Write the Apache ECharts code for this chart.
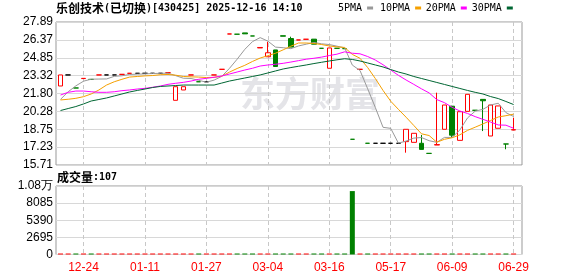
<!DOCTYPE html>
<html><head><meta charset="utf-8">
<script src="https://cdn.jsdelivr.net/npm/echarts@6/dist/echarts.min.js"></script>
<style>html,body{margin:0;padding:0;background:#fff}#c{width:578px;height:276px}</style>
</head><body><div id="c"></div>
<script>
const chartTitle = '乐创技术(已切换)[430425] 2025-12-16 14:10';
const volTitle = '成交量:107';
const tickLabels = ['12-24','01-11','01-27','03-04','03-16','05-17','06-09','06-29'];
const tickIndex = [3,11,19,27,35,43,51,59];
const priceTicks = ['15.71','17.23','18.75','20.28','21.80','23.32','24.85','26.37','27.89'];
const volTicks = ['0','2695','5390','8085','1.08万'];
const volMax = 10780;

const opens  = [22.44,23.38,22.27,23.07,23.00,23.38,23.38,23.38,23.43,23.52,23.52,23.52,23.52,23.52,23.57,21.22,22.10,23.38,22.80,22.80,23.38,23.86,26.87,26.85,26.96,26.70,25.68,24.93,25.51,26.72,26.48,26.36,26.42,26.43,25.65,23.95,25.65,25.62,17.90,23.86,17.56,17.56,17.56,17.56,17.56,17.70,17.64,17.56,16.70,17.41,18.75,20.72,17.81,20.28,20.37,21.30,18.18,18.84,17.50,18.69];
const closes = [23.38,23.38,22.27,23.09,23.00,23.38,23.38,23.38,23.43,23.52,23.52,23.52,23.52,23.52,23.57,22.38,22.38,23.38,22.80,22.80,23.38,23.86,26.87,26.85,26.88,26.70,25.72,25.27,24.10,26.68,25.75,26.36,26.42,26.00,25.65,25.68,25.65,25.62,17.90,23.86,17.56,17.56,17.56,17.56,17.56,18.75,18.41,17.04,16.70,17.45,20.82,18.25,20.25,21.73,20.37,21.18,20.82,20.74,17.50,18.72];
const lows   = [22.44,23.38,22.27,23.07,23.00,23.38,23.38,23.38,23.43,23.52,23.52,23.52,23.52,23.52,23.57,21.22,22.10,23.38,22.80,22.80,23.38,23.86,26.87,26.85,26.88,26.70,25.68,24.93,24.10,26.68,25.75,26.36,26.42,26.00,25.65,23.95,25.65,25.62,17.90,23.86,17.56,17.56,17.56,17.56,17.56,16.76,17.64,17.04,16.70,17.41,18.75,18.02,17.81,20.28,20.37,18.60,18.18,18.84,17.05,18.69];
const highs  = [23.38,23.38,22.27,23.09,23.00,23.38,23.38,23.38,23.43,23.52,23.52,23.52,23.52,23.52,23.57,22.38,22.38,23.38,22.80,22.80,23.38,23.86,26.87,26.85,26.96,26.70,25.72,26.21,25.51,26.72,26.64,26.36,26.42,26.43,25.65,25.68,25.65,25.62,17.90,23.86,17.56,17.56,17.56,17.56,17.56,18.75,18.41,18.27,16.70,21.87,20.82,20.75,20.25,21.73,20.37,21.30,20.82,20.74,17.50,19.74];
const volumes = [120,110,130,100,115,125,105,110,120,130,100,105,110,115,120,140,130,125,110,100,120,135,140,130,120,115,110,140,130,120,125,110,115,120,105,140,110,115,9980,130,120,100,100,100,100,140,130,125,110,145,140,135,130,140,110,135,140,130,115,107];

const ma5  = [21.30,21.95,22.45,22.85,23.02,23.03,23.04,23.26,23.31,23.42,23.45,23.47,23.50,23.52,23.53,23.32,23.10,23.08,22.92,22.76,22.94,23.26,23.94,24.72,25.56,26.22,26.56,26.26,25.75,25.70,25.62,25.85,26.00,26.15,26.03,25.97,25.83,25.69,24.22,23.76,22.20,20.60,18.92,18.83,17.57,17.75,18.00,18.05,17.78,17.64,18.06,18.06,18.69,19.72,20.30,20.45,20.82,20.97,20.17,19.84];
const ma10 = [21.25,21.31,21.39,21.53,21.76,22.10,22.52,22.80,23.01,23.20,23.25,23.30,23.33,23.40,23.42,23.36,23.25,23.22,23.20,23.16,23.18,23.27,23.62,23.93,24.20,24.53,24.82,25.02,25.23,25.52,25.83,26.10,26.10,26.06,25.97,25.85,25.77,25.72,25.13,24.80,24.01,23.07,22.06,21.14,20.45,19.78,19.08,18.37,18.22,17.65,17.90,18.03,18.28,18.66,18.93,19.21,19.50,19.80,19.91,20.04];
const ma20 = [21.67,21.90,22.01,22.01,21.95,21.90,21.90,21.95,22.04,22.10,22.18,22.24,22.33,22.44,22.58,22.67,22.75,22.86,23.01,23.09,23.18,23.29,23.46,23.63,23.80,23.95,24.14,24.23,24.29,24.37,24.48,24.60,24.72,24.80,24.90,25.03,25.15,25.35,25.23,25.18,24.95,24.65,24.25,23.80,23.35,22.95,22.58,22.20,21.85,21.28,21.02,20.62,20.31,20.10,19.83,19.60,19.37,19.12,19.10,18.84];
const ma30 = [20.35,20.52,20.69,20.91,21.16,21.29,21.42,21.59,21.76,21.93,22.06,22.18,22.31,22.40,22.44,22.48,22.52,22.52,22.52,22.52,22.52,22.69,22.86,22.99,23.12,23.25,23.38,23.55,23.72,23.89,24.01,24.12,24.23,24.35,24.46,24.57,24.67,24.76,24.70,24.57,24.40,24.23,24.06,23.84,23.63,23.46,23.25,23.08,22.91,22.74,22.57,22.40,22.23,22.06,21.90,21.76,21.54,21.37,21.12,20.86];

const RED = '#ff0000', GREEN = '#008000', BLACK = '#000000';
const CJKFONT = "'Noto Sans CJK SC', sans-serif";
const MONOFONT = "'DejaVu Sans Mono', monospace";
const NUMFONT = "'Liberation Sans', Arial, sans-serif";

// split a string into rich-text runs: wide (CJK) and narrow (ASCII)
function toRich(s) {
  let out = '', cur = '', curType = null;
  for (const ch of s) {
    const t = /[\u3000-\u9fff\uff00-\uffef]/.test(ch) ? 'c' : 'a';
    if (t !== curType && cur) { out += '{' + curType + '|' + cur + '}'; cur = ''; }
    curType = t; cur += ch;
  }
  if (cur) out += '{' + curType + '|' + cur + '}';
  return out;
}
const richStyles = {
  c: {fontSize: 12, fontFamily: CJKFONT, color: '#000'},
  a: {fontSize: 10, fontFamily: MONOFONT, color: '#000'}
};

const cats = opens.map((_, i) => 'd' + i);
const labelAt = {};
tickIndex.forEach((idx, k) => { labelAt[idx] = tickLabels[k]; });
const showTick = (idx) => labelAt[idx] !== undefined;

function candleColor(i) {
  if (closes[i] > opens[i]) return RED;
  if (closes[i] < opens[i]) return GREEN;
  const prev = i > 0 ? closes[i - 1] : closes[i];
  if (closes[i] > prev) return RED;
  if (closes[i] < prev) return GREEN;
  return BLACK;
}
const candleData = opens.map((o, i) => {
  const col = candleColor(i);
  const hollow = closes[i] > opens[i];
  return {
    value: [o, closes[i], lows[i], highs[i]],
    itemStyle: {
      color: hollow ? '#ffffff' : col, color0: col,
      borderColor: col, borderColor0: col, borderColorDoji: col, borderWidth: 1
    }
  };
});
const volData = volumes.map((v, i) => ({
  value: v,
  itemStyle: { color: candleColor(i) === GREEN ? GREEN : RED }
}));

const priceMin = parseFloat(priceTicks[0]);
const priceMax = parseFloat(priceTicks[priceTicks.length - 1]);

const dataLeft = 60.5, dataWidth = 453.1;
const maNames = ['5PMA','10PMA','20PMA','30PMA'];
const maColors = ['#999999','#f5a000','#ff00ff','#006633'];
const maData = [ma5, ma10, ma20, ma30];
const legendLeft = [338, 380, 425.7, 471.7];

const chart = echarts.init(document.getElementById('c'), null, {renderer: 'canvas'});
chart.setOption({
  animation: false,
  backgroundColor: '#ffffff',
  title: [
    {text: toRich(chartTitle), left: 56, top: 2, padding: 0, textStyle: {rich: richStyles}},
    {text: toRich(volTitle), left: 57, top: 171, padding: 0, textStyle: {rich: richStyles}}
  ],
  legend: maNames.map((n, k) => ({
    data: [n], left: legendLeft[k], top: 3, padding: 0, align: 'right',
    icon: 'rect', itemWidth: 6, itemHeight: 3, selectedMode: false,
    textStyle: {fontSize: 10, color: '#000', fontFamily: MONOFONT, padding: [0, 0, 0, -2]}
  })),
  graphic: [
    {type: 'text', left: 240, top: 76, z: -1, silent: true,
     style: {text: '东方财富', font: "bold 35px 'Noto Sans CJK SC'", fill: '#e4e4e8'}}
  ],
  grid: [
    {left: dataLeft, top: 22, width: dataWidth, height: 143},
    {left: dataLeft, top: 186, width: dataWidth, height: 68.5},
    {left: 56, top: 22, width: 466, height: 143, show: true, borderColor: '#999', borderWidth: 1, backgroundColor: 'transparent'},
    {left: 56, top: 186, width: 466, height: 68.5, show: true, borderColor: '#999', borderWidth: 1, backgroundColor: 'transparent'}
  ],
  xAxis: [
    {type: 'category', gridIndex: 0, data: cats, boundaryGap: false,
     axisLine: {show: false}, axisTick: {show: false}, axisLabel: {show: false},
     splitLine: {show: true, interval: showTick, lineStyle: {color: '#c8c8c8', type: [4, 3], width: 1}}},
    {type: 'category', gridIndex: 1, data: cats, boundaryGap: false,
     axisLine: {show: false}, axisTick: {show: false},
     axisLabel: {show: true, interval: showTick, formatter: (v, idx) => labelAt[idx] || '', color: RED, fontSize: 12, fontFamily: NUMFONT, margin: 7},
     splitLine: {show: true, interval: showTick, lineStyle: {color: '#c8c8c8', type: [4, 3], width: 1}}},
    {type: 'value', gridIndex: 2, show: false, min: 0, max: 1},
    {type: 'value', gridIndex: 3, show: false, min: 0, max: 1}
  ],
  yAxis: [
    {type: 'value', gridIndex: 0, min: priceMin, max: priceMax, show: false, splitLine: {show: false}},
    {type: 'value', gridIndex: 1, min: 0, max: volMax, show: false, splitLine: {show: false}},
    {type: 'value', gridIndex: 2, min: 0, max: priceTicks.length - 1, interval: 1,
     axisLine: {show: false}, axisTick: {show: false},
     axisLabel: {formatter: v => priceTicks[v] || '', color: '#000', fontSize: 12, fontFamily: NUMFONT, margin: 3},
     splitLine: {show: true, lineStyle: {color: '#d8d8d8', width: 1}}},
    {type: 'value', gridIndex: 3, min: 0, max: volTicks.length - 1, interval: 1,
     axisLine: {show: false}, axisTick: {show: false},
     axisLabel: {formatter: v => volTicks[v] || '', color: '#000', fontSize: 12, fontFamily: NUMFONT, margin: 3},
     splitLine: {show: true, lineStyle: {color: '#d8d8d8', width: 1}}}
  ],
  series: [
    {type: 'candlestick', name: 'K', xAxisIndex: 0, yAxisIndex: 0, data: candleData, barWidth: 5, clip: false, z: 3},
    ...maNames.map((n, k) => ({
      type: 'line', name: n, xAxisIndex: 0, yAxisIndex: 0, data: maData[k], symbol: 'none', clip: false,
      color: maColors[k], lineStyle: {color: maColors[k], width: 1}, z: 4
    })),
    {type: 'bar', name: 'VOL', xAxisIndex: 1, yAxisIndex: 1, data: volData, barWidth: 5, barMinHeight: 1}
  ]
});
</script></body></html>
